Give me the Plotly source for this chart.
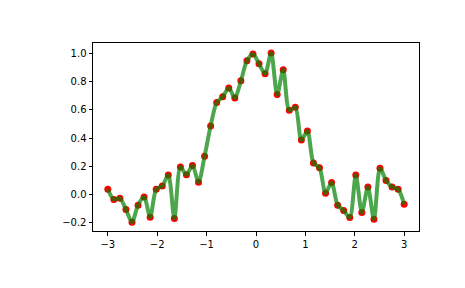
import plotly.graph_objects as go

x_vals = [-3 + i * 6 / 49 for i in range(50)]
y_vals = [0.038, -0.035, -0.026, -0.106, -0.196, -0.075, -0.018, -0.160, 0.038, 0.060,
          0.138, -0.170, 0.195, 0.140, 0.206, 0.088, 0.272, 0.486, 0.651, 0.692,
          0.755, 0.684, 0.805, 0.947, 0.995, 0.926, 0.855, 1.002, 0.708, 0.883,
          0.597, 0.618, 0.386, 0.450, 0.224, 0.190, 0.010, 0.086, -0.075, -0.113,
          -0.163, 0.138, -0.127, 0.053, -0.175, 0.187, 0.100, 0.053, 0.038, -0.068]
x_ticks = [-3, -2, -1, 0, 1, 2, 3]
y_ticks = [-0.2, 0.0, 0.2, 0.4, 0.6, 0.8, 1.0]

fig = go.Figure()
fig.add_trace(go.Scatter(x=x_vals, y=y_vals, mode="markers",
                         marker=dict(color="red", size=7, line=dict(width=0))))
fig.add_trace(go.Scatter(x=x_vals, y=y_vals, mode="lines",
                         line=dict(color="rgba(0,128,0,0.7)", width=4, shape="spline", smoothing=0.8)))

axis_common = dict(showgrid=False, zeroline=False, showline=True, linecolor="black", linewidth=1,
                   mirror=True, ticks="outside", ticklen=3.5, tickwidth=1, tickcolor="black",
                   tickfont=dict(family="DejaVu Sans", size=10, color="black"))
fig.update_xaxes(range=[-3.3, 3.3], tickvals=x_ticks, **axis_common)
fig.update_yaxes(range=[-0.258, 1.073], tickvals=y_ticks, tickformat=".1f", **axis_common)
fig.update_layout(width=465, height=288, margin=dict(l=93, r=46, t=43, b=57),
                  plot_bgcolor="white", paper_bgcolor="white", showlegend=False)
fig.write_html("out.html")
